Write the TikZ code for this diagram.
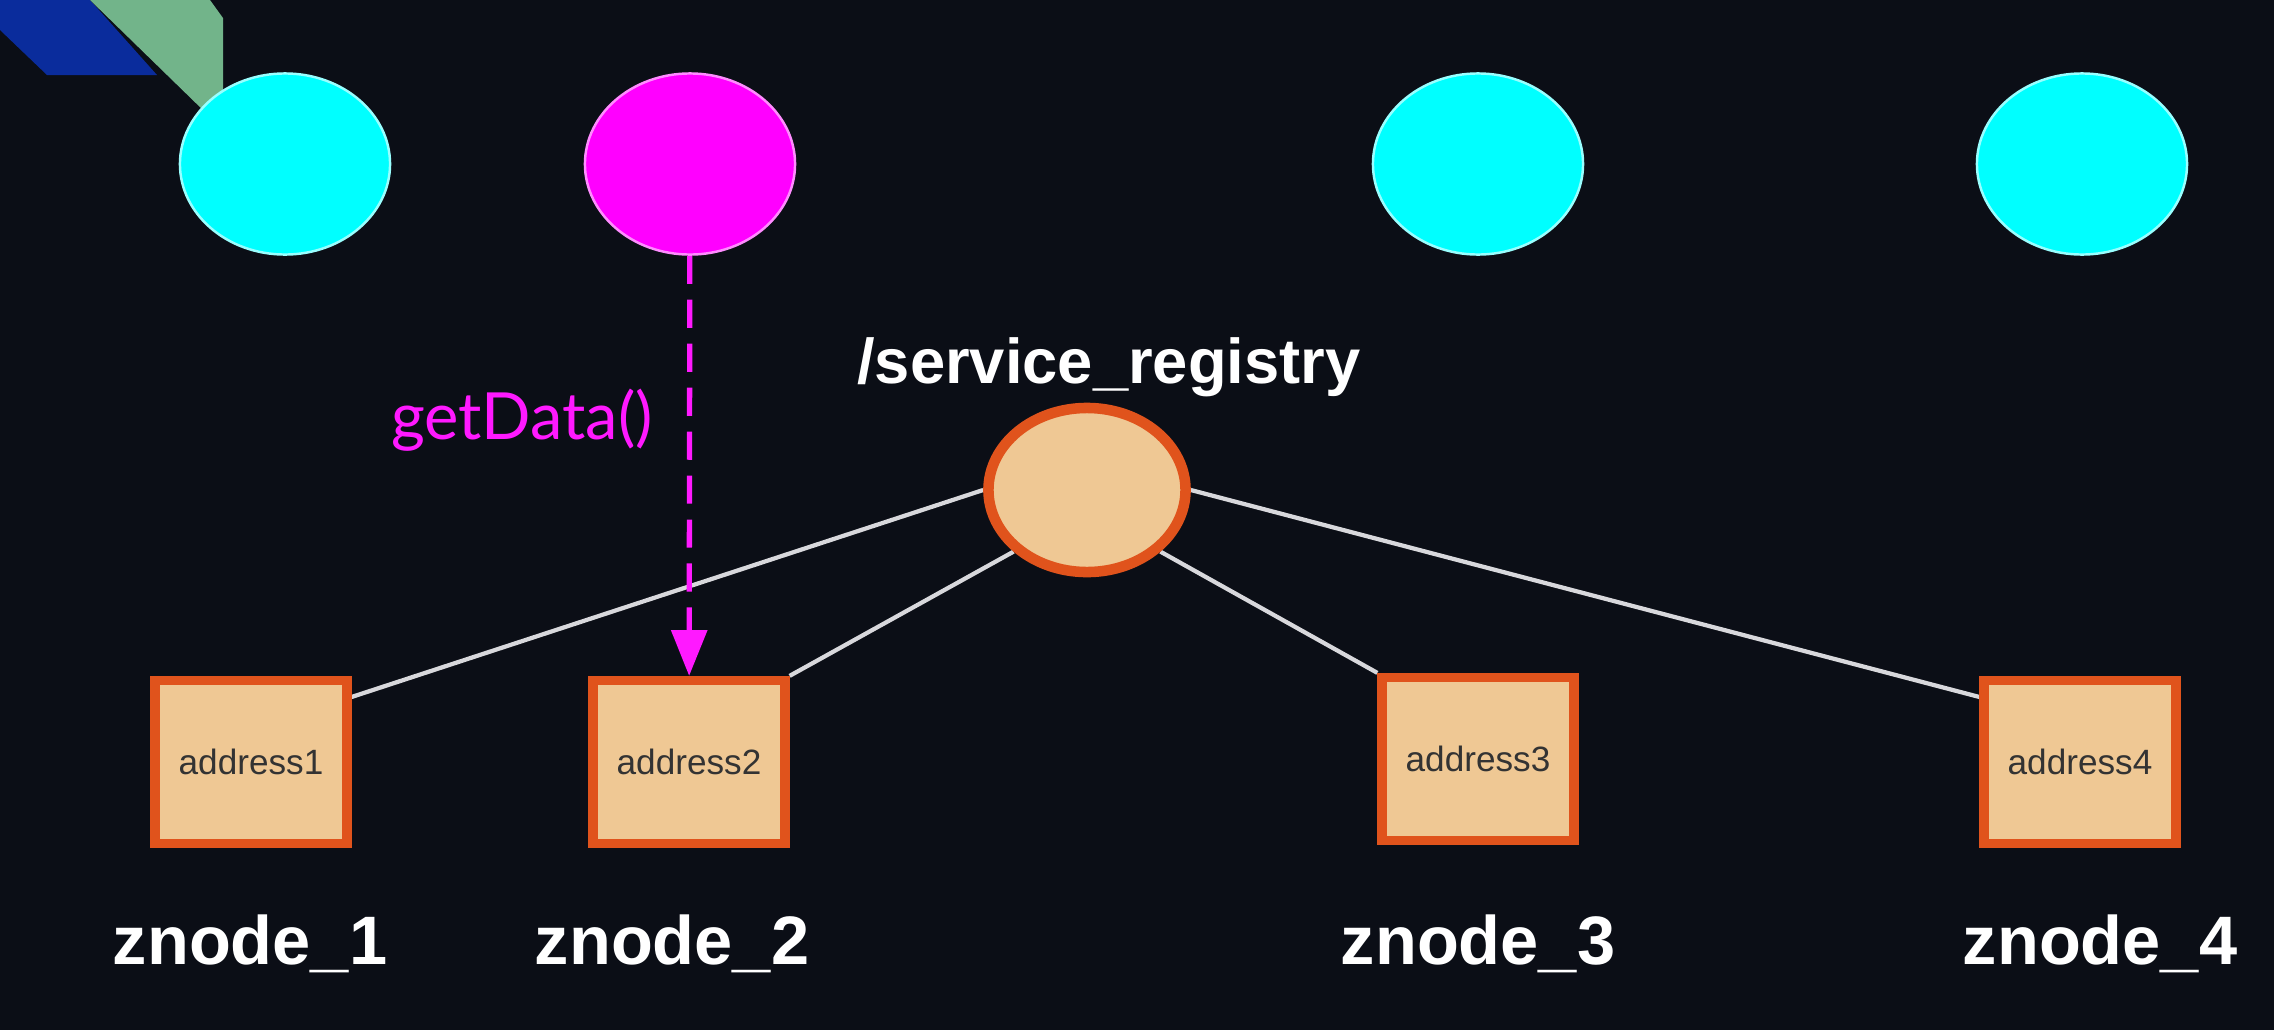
\documentclass[tikz,border=0pt]{standalone}
\usepackage{fontspec}
\setmainfont{Liberation Sans}
\newfontfamily\latofont{Lato}
\usepackage{xcolor}
\usepackage{tikz}
\usetikzlibrary{shapes,arrows.meta,positioning,backgrounds}

\definecolor{bgdark}{HTML}{0B0E16}
\definecolor{slideblue}{HTML}{0A2C9C}
\definecolor{slidegreen}{HTML}{72B48A}
\definecolor{peach}{HTML}{EFC894}
\definecolor{rust}{HTML}{E0531C}
\definecolor{pink}{HTML}{FF00FF}
\definecolor{aqua}{HTML}{00FFFF}
\definecolor{wire}{HTML}{D8D8DC}

\tikzset{
  clientnode/.style={ellipse, minimum width=2.1cm, minimum height=1.81cm, inner sep=0pt,
    fill=aqua, draw=white!60!aqua, line width=0.7pt},
  regnode/.style={ellipse, minimum width=1.97cm, minimum height=1.64cm, inner sep=0pt,
    fill=peach, draw=rust, line width=3pt},
  znodebox/.style={rectangle, minimum width=1.92cm, minimum height=1.63cm, inner sep=0pt,
    fill=peach, draw=rust, line width=2.6pt, text=black!80,
    font=\fontsize{10}{12}\selectfont},
  zlabel/.style={text=white, font=\bfseries\fontsize{19.5}{23}\selectfont},
  wireline/.style={draw=wire, line width=1.2pt},
  calledge/.style={draw=pink!90!white, line width=1.5pt, dash pattern=on 8pt off 4.5pt,
    -{Triangle[width=10pt,length=13pt]}}
}

\begin{document}
\begin{tikzpicture}[x=0.01cm,y=-0.01cm]
    % Slide corner
    \draw [fill=slideblue, draw=none] (0,0) -- (90,0) -- (157,75) -- (47,75) -- (0,30) -- cycle;
    \draw [fill=slidegreen, draw=none] (90,0) -- (210,0) -- (223,18) -- (223,110) -- (205,112) -- cycle;
    % Clients
    \node [clientnode] (c1) at (285,164) {};
    \node [clientnode, fill=pink, draw=white!55!pink] (c2) at (690,164) {};
    \node [clientnode] (c3) at (1478,164) {};
    \node [clientnode] (c4) at (2082,164) {};
    % Registry
    \node [regnode] (reg) at (1087,490) {};
    \node [text=white, font=\bfseries\fontsize{18}{22}\selectfont] (reglabel) at (1109,367) {/service\_registry};
    % Znodes
    \node [znodebox] (box1) at (251,762) {address1};
    \node [znodebox] (box2) at (689,762) {address2};
    \node [znodebox] (box3) at (1478,759) {address3};
    \node [znodebox] (box4) at (2080,762) {address4};
    \node [zlabel] (zl1) at (250,944) {znode\_1};
    \node [zlabel] (zl2) at (672,944) {znode\_2};
    \node [zlabel] (zl3) at (1478,944) {znode\_3};
    \node [zlabel] (zl4) at (2100,944) {znode\_4};
    % Children
    \begin{scope}[on background layer]
        \fill [bgdark] (0,0) rectangle (2274,1030);
        \draw [wireline] (reg.west) -- ([yshift=-6pt]box1.north east);
        \draw [wireline] (reg.220) -- (box2.north east);
        \draw [wireline] (reg.320) -- (box3.north west);
        \draw [wireline] (reg.east) -- ([yshift=-6pt]box4.north west);
    \end{scope}
    % getData call
    \draw [calledge] (c2) -- (box2);
    \node [text=pink!90!white, font=\latofont\fontsize{18.5}{22}\selectfont] (call) at (522,420) {getData()};
    \useasboundingbox (0,0) rectangle (2274,1030);
\end{tikzpicture}
\end{document}
